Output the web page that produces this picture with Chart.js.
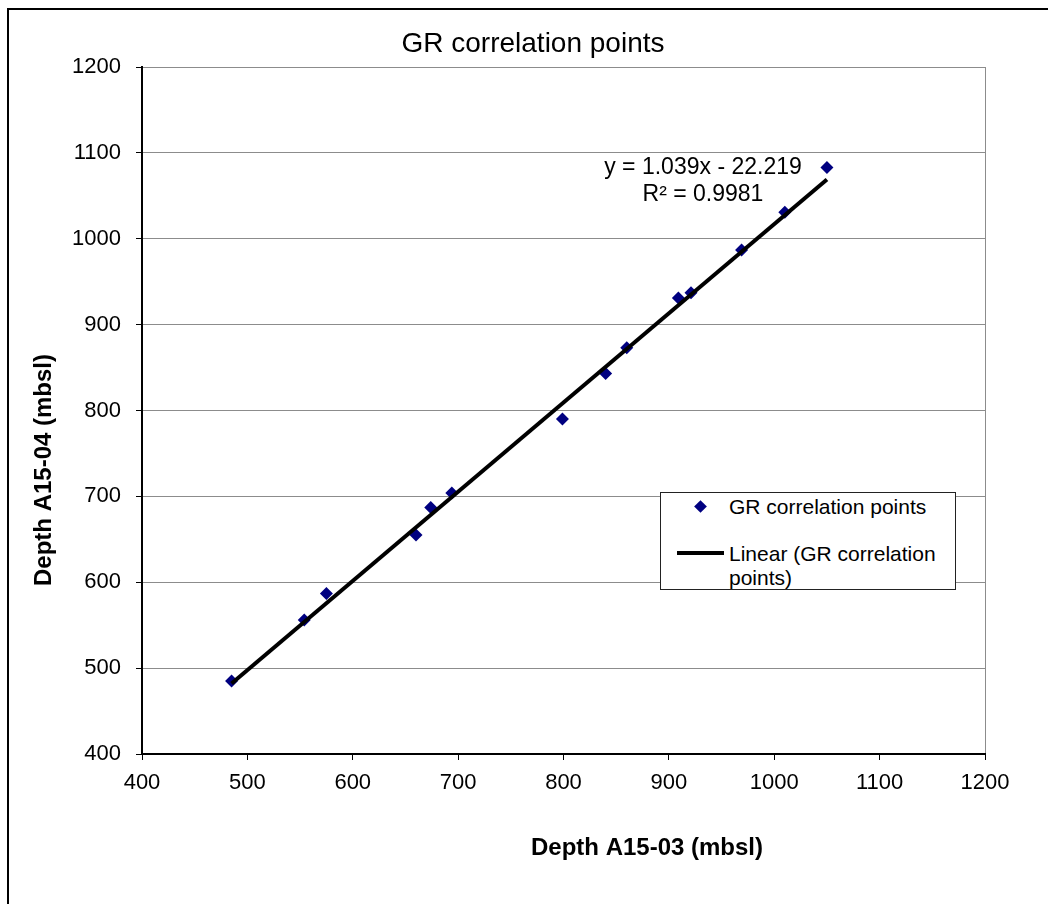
<!DOCTYPE html>
<html>
<head>
<meta charset="utf-8">
<title>GR correlation points</title>
<script src="https://cdn.jsdelivr.net/npm/chart.js@4.4.1/dist/chart.umd.min.js"></script>
<style>
  html, body { margin: 0; padding: 0; background: #fff; }
  #wrap { position: relative; width: 1048px; height: 904px; overflow: hidden; }
  #frame {
    position: absolute; left: 7px; top: 8px; width: 1100px; height: 1000px;
    border-left: 2px solid #000; border-top: 2px solid #000; pointer-events: none;
  }
  #legend {
    position: absolute; left: 660px; top: 492px; width: 296px; height: 98px;
    box-sizing: border-box; border: 1px solid #222; background: #fff;
    font: 21px 'Liberation Sans', Arial, sans-serif; color: #000;
  }
  .lg-row { position: absolute; left: 0; width: 100%; }
  .lg-mark { position: absolute; left: 16px; width: 47px; height: 24px; }
  .lg-text { position: absolute; left: 68px; width: 222px; line-height: 24px; }
</style>
</head>
<body>
<div id="wrap">
  <canvas id="chart" width="1048" height="904"></canvas>
  <div id="frame"></div>
  <div id="legend"></div>
</div>
<script>
  // Depth pairs (mbsl)
  const depthA1503 = [485, 554, 575, 660, 674, 694, 799, 840, 860, 909, 921, 969, 1010, 1050];
  const depthA1504 = [485, 556, 587, 655, 687, 704, 790, 843, 873, 931, 937, 987, 1031, 1083];

  // Linear trendline end points (x from first to last sample)
  const trendX = [485, 1050];
  const trendY = [482, 1069];

  const axisTicks = [400, 500, 600, 700, 800, 900, 1000, 1100, 1200];

  const chartTitle = 'GR correlation points';
  const xTitle = 'Depth A15-03 (mbsl)';
  const yTitle = 'Depth A15-04 (mbsl)';
  const eqLines = ['y = 1.039x - 22.219', 'R\u00b2 = 0.9981'];

  const FONT = "'Liberation Sans', Arial, sans-serif";
  const NAVY = '#000080';

  const points = depthA1503.map((x, i) => ({ x, y: depthA1504[i] }));
  const trend = trendX.map((x, i) => ({ x, y: trendY[i] }));

  // Chart title, axis titles + trendline equation
  const textPlugin = {
    id: 'textPlugin',
    afterDraw(chart) {
      const { ctx } = chart;
      ctx.save();
      ctx.fillStyle = '#000';
      ctx.textAlign = 'center';
      ctx.textBaseline = 'middle';

      ctx.font = `28px ${FONT}`;
      ctx.fillText(chartTitle, 533, 44);

      ctx.font = `bold 24px ${FONT}`;
      ctx.fillText(xTitle, 647, 848);

      ctx.save();
      ctx.translate(44, 470);
      ctx.rotate(-Math.PI / 2);
      ctx.fillText(yTitle, 0, 0);
      ctx.restore();

      ctx.font = `23px ${FONT}`;
      ctx.fillText(eqLines[0], 703, 168);
      ctx.fillText(eqLines[1], 703, 195);
      ctx.restore();
    }
  };

  const chart = new Chart(document.getElementById('chart'), {
    type: 'scatter',
    data: {
      datasets: [
        {
          label: 'GR correlation points',
          data: points,
          pointStyle: 'rectRot',
          pointRadius: 6.5,
          pointHoverRadius: 6.5,
          backgroundColor: NAVY,
          borderColor: NAVY,
          borderWidth: 0,
          order: 2
        },
        {
          label: 'Linear (GR correlation points)',
          data: trend,
          showLine: true,
          borderColor: '#000',
          borderWidth: 4,
          pointRadius: 0,
          order: 1
        }
      ]
    },
    options: {
      responsive: false,
      animation: false,
      devicePixelRatio: 1,
      layout: { padding: { left: 0, right: 63, top: 67, bottom: 0 } },
      plugins: {
        legend: { display: false },
        tooltip: { enabled: false },
        title: { display: false }
      },
      scales: {
        x: {
          type: 'linear',
          min: 400,
          max: 1200,
          afterBuildTicks(scale) { scale.ticks = axisTicks.map(v => ({ value: v })); },
          afterFit(scale) { scale.height = 150; },
          border: { color: '#000', width: 2 },
          grid: {
            color: ctx => (ctx.tick && ctx.tick.value === 1200 ? '#8c8c8c' : 'rgba(0,0,0,0)'),
            lineWidth: 1,
            tickColor: '#000',
            tickLength: 6,
            tickWidth: 1
          },
          ticks: {
            color: '#000', padding: 10, maxRotation: 0,
            font: { family: FONT, size: 22 },
            callback: v => String(v)
          }
        },
        y: {
          type: 'linear',
          min: 400,
          max: 1200,
          afterBuildTicks(scale) { scale.ticks = axisTicks.map(v => ({ value: v })); },
          afterFit(scale) { scale.width = 142; },
          border: { color: '#000', width: 2 },
          grid: {
            color: '#8c8c8c',
            lineWidth: 1,
            tickColor: '#000',
            tickLength: 6,
            tickWidth: 1
          },
          ticks: {
            color: '#000', padding: 15,
            font: { family: FONT, size: 22 },
            callback: v => String(v)
          }
        }
      }
    },
    plugins: [textPlugin]
  });

  // HTML legend built from the datasets
  (function buildLegend() {
    const box = document.getElementById('legend');
    const rowTops = [2, 49];
    chart.data.datasets.forEach((ds, i) => {
      const row = document.createElement('div');
      row.className = 'lg-row';
      row.style.top = rowTops[i] + 'px';

      const mark = document.createElement('div');
      mark.className = 'lg-mark';
      if (ds.showLine) {
        mark.innerHTML = '<div style="position:absolute;left:0;right:0;top:9px;height:4px;background:#000"></div>';
      } else {
        mark.innerHTML = `<div style="position:absolute;left:19px;top:7px;width:9px;height:9px;background:${ds.backgroundColor};transform:rotate(45deg)"></div>`;
      }

      const text = document.createElement('div');
      text.className = 'lg-text';
      text.textContent = ds.label;

      row.appendChild(mark);
      row.appendChild(text);
      box.appendChild(row);
    });
  })();
</script>
</body>
</html>
